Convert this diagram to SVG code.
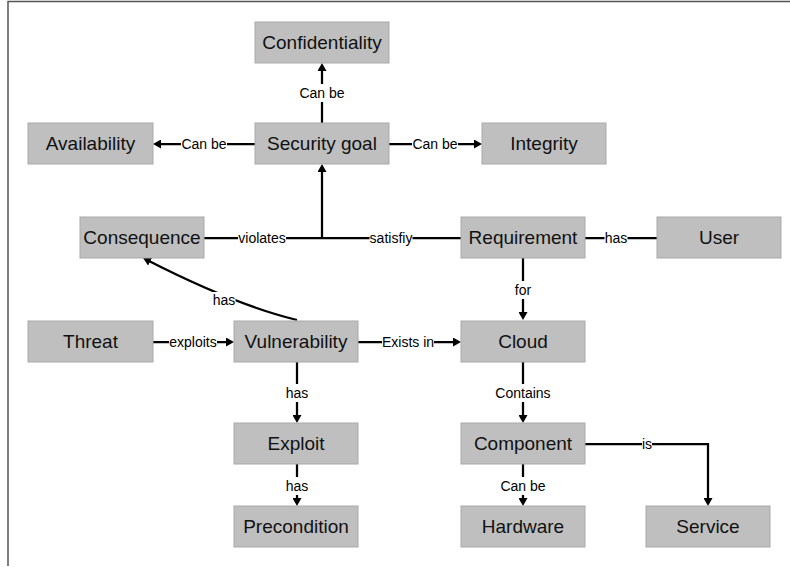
<svg xmlns="http://www.w3.org/2000/svg" width="790" height="567" viewBox="0 0 790 567">
<style>
.box{fill:#bfbfbf;stroke:#a9a9a9;stroke-width:1}
.nt{font-family:"Liberation Sans",Arial,sans-serif;font-size:19px;fill:#111;text-anchor:middle}
.ln{fill:none;stroke:#000;stroke-width:2.25}
.bg{fill:#fff}
.lb{font-family:"Liberation Sans",Arial,sans-serif;font-size:14px;fill:#000;text-anchor:middle}
</style>
<defs>
<marker id="ah" viewBox="0 0 8 9" refX="3" refY="4.5" markerWidth="8" markerHeight="9" markerUnits="userSpaceOnUse" orient="auto">
<path d="M0,0 L8,4.5 L0,9 z" fill="#000"/>
</marker>
</defs>
<rect width="790" height="567" fill="#fff"/>
<g id="frame"><path d="M8,566 V1.5 H790" fill="none" stroke="#555" stroke-width="1.5"/></g>

<g id="connectors">
<path class="ln" d="M322,123 V68" marker-end="url(#ah)"/>
<path class="ln" d="M255,144 H158" marker-end="url(#ah)"/>
<path class="ln" d="M389,144 H477" marker-end="url(#ah)"/>
<path class="ln" d="M204,238 H461"/>
<path class="ln" d="M322,238 V169" marker-end="url(#ah)"/>
<path class="ln" d="M585,238 H657"/>
<path class="ln" d="M523,258 V315" marker-end="url(#ah)"/>
<path class="ln" d="M153,342 H229" marker-end="url(#ah)"/>
<path class="ln" d="M358,342 H456" marker-end="url(#ah)"/>
<path class="ln" d="M297,320 Q235,305 147.5,260.3" marker-end="url(#ah)"/>
<path class="ln" d="M297,362 V418" marker-end="url(#ah)"/>
<path class="ln" d="M297,464 V501" marker-end="url(#ah)"/>
<path class="ln" d="M523,362 V418" marker-end="url(#ah)"/>
<path class="ln" d="M523,464 V501" marker-end="url(#ah)"/>
<path class="ln" d="M585,444 H708 V501" marker-end="url(#ah)"/>

<rect class="bg" x="299" y="84" width="46" height="18"/><text class="lb" x="322" y="98">Can be</text>
<rect class="bg" x="181" y="136" width="46" height="16"/><text class="lb" x="204" y="149">Can be</text>
<rect class="bg" x="412" y="136" width="46" height="16"/><text class="lb" x="435" y="149">Can be</text>
<rect class="bg" x="238" y="230" width="48" height="16"/><text class="lb" x="262" y="243">violates</text>
<rect class="bg" x="369.5" y="230" width="43" height="16"/><text class="lb" x="391" y="243">satisfiy</text>
<rect class="bg" x="604.5" y="230" width="23" height="16"/><text class="lb" x="616" y="243">has</text>
<rect class="bg" x="514" y="281" width="18" height="18"/><text class="lb" x="523" y="295">for</text>
<rect class="bg" x="169" y="334" width="48" height="16"/><text class="lb" x="193" y="347">exploits</text>
<rect class="bg" x="382" y="334" width="52" height="16"/><text class="lb" x="408" y="347">Exists in</text>
<rect class="bg" x="212.5" y="292" width="23" height="16"/><text class="lb" x="224" y="305">has</text>
<rect class="bg" x="285.5" y="384" width="23" height="18"/><text class="lb" x="297" y="398">has</text>
<rect class="bg" x="285.5" y="477" width="23" height="18"/><text class="lb" x="297" y="491">has</text>
<rect class="bg" x="495.5" y="384" width="55" height="18"/><text class="lb" x="523" y="398">Contains</text>
<rect class="bg" x="500" y="477" width="46" height="18"/><text class="lb" x="523" y="491">Can be</text>
<rect class="bg" x="642" y="436" width="10" height="16"/><text class="lb" x="647" y="449">is</text>
</g>

<g id="n-confidentiality"><rect class="box" x="255" y="22" width="134" height="41"/><text class="nt" x="322" y="49">Confidentiality</text></g>
<g id="n-availability"><rect class="box" x="28" y="123" width="125" height="41"/><text class="nt" x="90.5" y="150">Availability</text></g>
<g id="n-securitygoal"><rect class="box" x="255" y="123" width="134" height="41"/><text class="nt" x="322" y="150">Security goal</text></g>
<g id="n-integrity"><rect class="box" x="482" y="123" width="124" height="41"/><text class="nt" x="544" y="150">Integrity</text></g>
<g id="n-consequence"><rect class="box" x="80" y="217" width="124" height="41"/><text class="nt" x="142" y="244">Consequence</text></g>
<g id="n-requirement"><rect class="box" x="461" y="217" width="124" height="41"/><text class="nt" x="523" y="244">Requirement</text></g>
<g id="n-user"><rect class="box" x="657" y="217" width="124" height="41"/><text class="nt" x="719" y="244">User</text></g>
<g id="n-threat"><rect class="box" x="28" y="321" width="125" height="41"/><text class="nt" x="90.5" y="348">Threat</text></g>
<g id="n-vulnerability"><rect class="box" x="234" y="321" width="124" height="41"/><text class="nt" x="296" y="348">Vulnerability</text></g>
<g id="n-cloud"><rect class="box" x="461" y="321" width="124" height="41"/><text class="nt" x="523" y="348">Cloud</text></g>
<g id="n-exploit"><rect class="box" x="234" y="423" width="124" height="41"/><text class="nt" x="296" y="450">Exploit</text></g>
<g id="n-component"><rect class="box" x="461" y="423" width="124" height="41"/><text class="nt" x="523" y="450">Component</text></g>
<g id="n-precondition"><rect class="box" x="234" y="506" width="124" height="41"/><text class="nt" x="296" y="533">Precondition</text></g>
<g id="n-hardware"><rect class="box" x="461" y="506" width="124" height="41"/><text class="nt" x="523" y="533">Hardware</text></g>
<g id="n-service"><rect class="box" x="646" y="506" width="124" height="41"/><text class="nt" x="708" y="533">Service</text></g>
</svg>
